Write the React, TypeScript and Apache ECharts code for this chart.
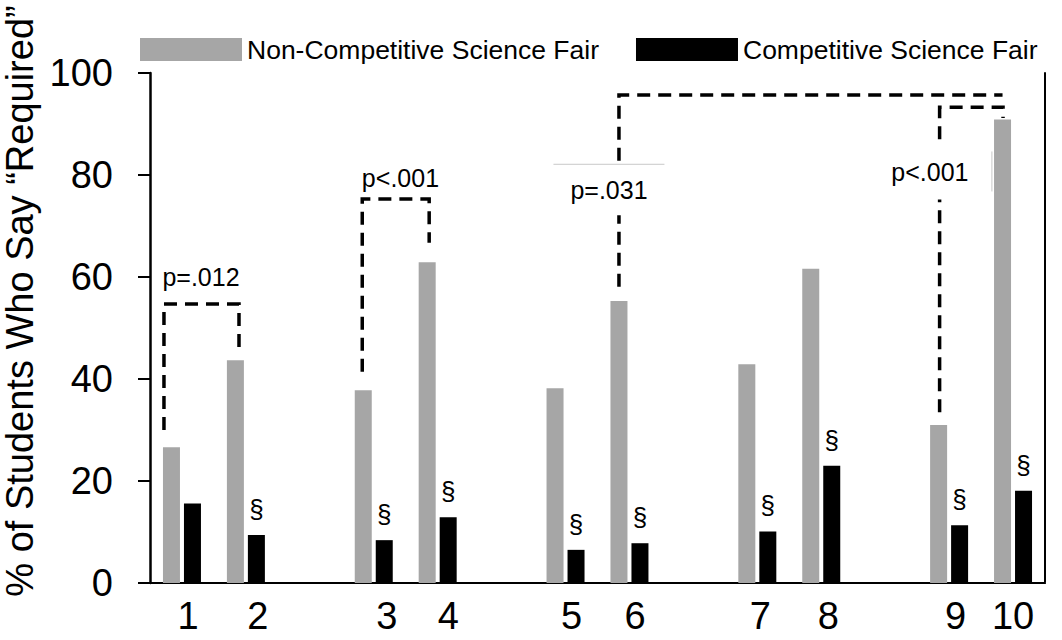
import { useEffect, useRef } from 'react';
import * as echarts from 'echarts';

const categories = ['1', '2', '', '3', '4', '', '5', '6', '', '7', '8', '', '9', '10'];
const nonCompetitive = [26.6, 43.7, null, 37.8, 62.9, null, 38.2, 55.3, null, 42.9, 61.6, null, 31.0, 90.9];
const competitive = [15.6, 9.4, null, 8.4, 12.9, null, 6.5, 7.8, null, 10.1, 23.0, null, 11.3, 18.1];
const significant = [false, true, false, true, true, false, true, true, false, true, true, false, true, true];
const seriesNames = ['Non-Competitive Science Fair', 'Competitive Science Fair'];
const yTitle = '% of Students Who Say “Required”';
const yMin = 0;
const yMax = 100;
const yInterval = 20;

// bracket corner points: [category index, value]
const bracketA = [[0, 30.0], [0, 54.7], [1, 54.7], [1, 45.7]];
const bracketB = [[3, 41.4], [3, 75.3], [4, 75.3], [4, 66.7]];
const bracketC = [[7, 58.1], [7, 95.7], [13, 95.7]];
const bracketD = [[12, 33.5], [12, 93.3], [13, 93.3], [13, 91.2]];
// p-value labels: [text, category index, value]
const pLabels = [
  ['p=.012', 0, 60.0],
  ['p<.001', 3, 79.4],
  ['p=.031', 7, 77.1],
  ['p<.001', 12, 80.6],
];

const FONT = '"Liberation Sans", Arial, Helvetica, sans-serif';
// layout tweaks (pixels)
const labelShift = [6, 12, 0, 13, 10.6, 0, 6, 5.5, 0, 3, 7, 0, 6.5, 0];
const bracketDx = [
  [-7.5, -7.5, 3.6, 3.6],
  [-1, -1, 2, 2],
  [0, 0, 0],
  [1, 1, 0.5, 0.5],
];
const pLabelDx = [29.5, 37.2, -10, -8.7];
const pBoxes = [null, null, { w: 111, h: 51, edge: 'top' }, { w: 124, h: 55, edge: 'right' }];

export default function App() {
  const ref = useRef<HTMLDivElement>(null);
  useEffect(() => {
    if (!ref.current) return;
    const chart = echarts.init(ref.current, undefined, { renderer: 'svg' });
    const rich: Record<string, any> = {};
    labelShift.forEach((s, i) => {
      rich['c' + i] = {
        padding: s >= 0 ? [0, 0, 0, 2 * s] : [0, -2 * s, 0, 0],
        fontSize: 38,
        color: '#000',
        fontFamily: FONT,
      };
    });
    const option: any = {
      animation: false,
      textStyle: { fontFamily: FONT },
      grid: {
        left: 150,
        right: 17,
        top: 73,
        bottom: 57,
        containLabel: false,
        outerBoundsMode: 'none',
      },
      legend: {
        left: 140,
        top: 36,
        padding: 0,
        itemWidth: 102,
        itemHeight: 23,
        itemGap: 37,
        icon: 'rect',
        data: seriesNames,
        textStyle: { fontSize: 26.5, color: '#000', fontFamily: FONT },
      },
      xAxis: [
        {
          type: 'category',
          data: categories,
          axisLine: { lineStyle: { color: '#8c8c8c', width: 2 } },
          axisTick: { show: false },
          axisLabel: {
            interval: 0,
            fontSize: 38,
            color: '#000',
            margin: 14,
            fontFamily: FONT,
            formatter: (v: string, i: number) => (v ? `{c${i}|${v}}` : ''),
            rich,
          },
        },
        {
          type: 'category',
          position: 'top',
          data: categories,
          axisLine: { lineStyle: { color: '#000', width: 2 } },
          axisTick: { show: false },
          axisLabel: { show: false },
        },
      ],
      yAxis: [
        {
          type: 'value',
          min: yMin,
          max: yMax,
          interval: yInterval,
          axisLine: { show: true, lineStyle: { color: '#000', width: 2.5 } },
          axisTick: { show: true, length: 12, lineStyle: { color: '#000', width: 2 } },
          axisLabel: { fontSize: 38, color: '#000', margin: 37, fontFamily: FONT },
          splitLine: { show: false },
          name: yTitle,
          nameLocation: 'middle',
          nameGap: 85,
          nameTextStyle: { fontSize: 38, color: '#000', fontFamily: FONT, padding: [0, 0, 0, 54] },
        },
        {
          type: 'value',
          position: 'right',
          min: yMin,
          max: yMax,
          interval: yInterval,
          axisLine: { show: true, lineStyle: { color: '#000', width: 2 } },
          axisTick: { show: false },
          axisLabel: { show: false },
          splitLine: { show: false },
        },
      ],
      series: [
        {
          name: seriesNames[0],
          type: 'bar',
          data: nonCompetitive,
          barWidth: 17,
          barGap: '23.5%',
          itemStyle: { color: '#a6a6a6' },
        },
        {
          name: seriesNames[1],
          type: 'bar',
          data: competitive,
          barWidth: 17,
          itemStyle: { color: '#000' },
          label: {
            show: true,
            position: 'top',
            distance: 13,
            fontSize: 26,
            color: '#000',
            fontFamily: FONT,
            formatter: (p: any) => (significant[p.dataIndex] ? '§' : ''),
          },
        },
      ],
    };
    chart.setOption(option);

    const px = (i: number, v: number) =>
      chart.convertToPixel({ xAxisIndex: 0, yAxisIndex: 0 }, [i, v]) as number[];
    const grayCenter = (i: number, v: number) => {
      const p = px(i, v);
      return [p[0] - 10.5, p[1]];
    };
    const graphics: any[] = [];
    [bracketA, bracketB, bracketC, bracketD].forEach((b, bi) => {
      const pts = b.map(([i, v], k) => {
        const p = grayCenter(i, v);
        return [p[0] + bracketDx[bi][k], p[1]];
      });
      graphics.push({
        type: 'polyline',
        shape: { points: pts },
        style: { stroke: '#000', lineWidth: 3.5, lineDash: [13, 8], fill: null },
        z: 10,
      });
    });
    pLabels.forEach(([text, i, v], k) => {
      const p = grayCenter(i as number, v as number);
      const x = p[0] + pLabelDx[k];
      const y = p[1];
      const box = pBoxes[k];
      if (box) {
        graphics.push({
          type: 'rect',
          shape: { x: x - box.w / 2, y: y - box.h / 2, width: box.w, height: box.h },
          style: { fill: '#fff', stroke: null },
          z: 11,
        });
        if (box.edge === 'top') {
          graphics.push({
            type: 'line',
            shape: { x1: x - box.w / 2, y1: y - box.h / 2, x2: x + box.w / 2, y2: y - box.h / 2 },
            style: { stroke: '#c8c8c8', lineWidth: 1 },
            z: 12,
          });
        } else {
          graphics.push({
            type: 'line',
            shape: { x1: x + box.w / 2, y1: y - box.h / 2 + 7, x2: x + box.w / 2, y2: y + box.h / 2 - 8 },
            style: { stroke: '#c8c8c8', lineWidth: 1 },
            z: 12,
          });
        }
      }
      graphics.push({
        type: 'text',
        x,
        y,
        style: {
          text,
          fontSize: 25,
          fontFamily: FONT,
          fill: '#000',
          align: 'center',
          verticalAlign: 'middle',
        },
        z: 13,
      });
    });
    chart.setOption({ graphic: graphics });

    return () => chart.dispose();
  }, []);
  return (
    <div
      ref={ref}
      style={{ position: 'fixed', left: 0, top: 0, width: 1062, height: 640, background: '#fff' }}
    />
  );
}
